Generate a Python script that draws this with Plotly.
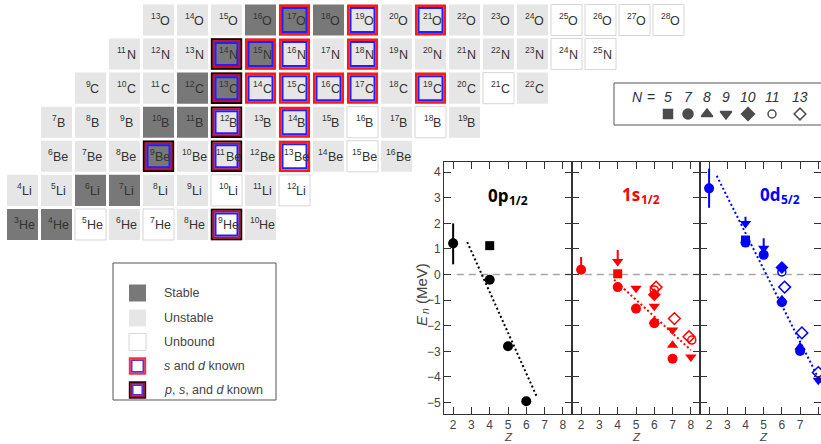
import plotly.graph_objects as go

W, H = 821, 444

# ---------------- Nuclide chart data ----------------
elements = ["He", "Li", "Be", "B", "C", "N", "O"]
element_Z = [2, 3, 4, 5, 6, 7, 8]
first_N = [1, 1, 2, 2, 3, 4, 5]
# S = stable, U = unstable, W = unbound (one code per isotope, increasing N)
status = ["SSWUWUWU", "UUSSUUWUW", "UUUSUUUWUWU", "UUUSSUUUUWUWU",
          "UUUSSUUUUUUUWU", "UUUSSUUUUUUUUWW", "UUUSSSUUUUUUWWWW"]
sd_known = {"O": [17, 19, 21], "N": [15, 16, 18], "C": [14, 15, 16, 17, 19],
            "B": [14], "Be": [13]}
psd_known = {"N": [14], "C": [13], "B": [12], "Be": [9, 11], "He": [9]}

legend_labels = ["Stable", "Unstable", "Unbound",
                 "<i>s</i> and <i>d</i> known",
                 "<i>p</i>, <i>s</i>, and <i>d</i> known"]

# ---------------- Energy panel data ----------------
p_Z = [2, 4, 4, 5, 6]
p_E = [1.22, 1.13, -0.20, -2.80, -4.95]
p_N = [7, 5, 7, 7, 7]
p_up = [0.78, 0, 0, 0, 0]
p_dn = [0.82, 0, 0, 0, 0]
p_fitZ = [2.77, 6.56]
p_fitE = [1.27, -4.75]

s_Z = [2, 4, 4, 4, 5, 5, 6.1, 6, 6, 6, 6, 6, 7.1, 7, 7, 7, 7.9, 8.05, 8]
s_E = [0.19, 0.51, 0.03, -0.49, -0.53, -1.33, -0.49, -0.60, -0.79, -1.24,
       -1.82, -1.90, -1.72, -2.17, -2.76, -3.29, -2.43, -2.56, -3.22]
s_N = [7, 9, 5, 7, 9, 7, 13, 11, 10, 9, 8, 7, 13, 9, 8, 7, 13, 11, 9]
s_up = [0.5, 0.45] + [0] * 17
s_dn = [0] * 19
s_fitZ = [3.8, 8.0]
s_fitE = [-0.2, -2.95]

d_Z = [2, 4, 4, 4, 5, 5, 6, 6, 6.15, 6, 6, 7.1, 7, 7, 8, 8]
d_E = [3.37, 2.00, 1.35, 1.25, 1.03, 0.77, 0.28, 0.10, -0.49, -0.98, -1.08,
       -2.28, -2.83, -2.99, -3.83, -4.13]
d_N = [7, 9, 5, 7, 9, 7, 10, 11, 13, 8, 7, 13, 8, 7, 13, 9]
d_up = [0.77, 0.26, 0, 0, 0.39] + [0] * 11
d_dn = [0.76] + [0] * 15
d_fitZ = [2.42, 8.27]
d_fitE = [3.86, -4.42]

legend_N = [5, 7, 8, 9, 10, 11, 13]
symbols = {5: "square", 7: "circle", 8: "triangle-up", 9: "triangle-down",
           10: "diamond", 11: "circle-open", 13: "diamond-open"}
sizes = {5: 9, 7: 10, 8: 10, 9: 10, 10: 10, 11: 8, 13: 9}

panels = [
    ("x", "y", p_Z, p_E, p_N, p_up, p_dn, p_fitZ, p_fitE, "#000000", "0p", "1/2"),
    ("x2", "y2", s_Z, s_E, s_N, s_up, s_dn, s_fitZ, s_fitE, "#ff0000", "1s", "1/2"),
    ("x3", "y3", d_Z, d_E, d_N, d_up, d_dn, d_fitZ, d_fitE, "#0000ff", "0d", "5/2"),
]
title_pos = [(505, 196), (638, 194), (777, 194)]

FONT = "Liberation Sans"
# approximate glyph advance widths (em)
CW = {"H": .722, "e": .556, "L": .556, "i": .222, "B": .667, "C": .722,
      "N": .722, "O": .778}
CW_OS = {"p": .627, "s": .488, "d": .627, "/": .371}


def text_w(s, size, table=CW, dflt=.556):
    return sum(table.get(c, dflt) for c in s) * size


def pxx(x):
    return x / W


def pxy(y):
    return 1 - y / H


def ann(x, y, text, size, color="#444", xanchor="center", family=FONT, **kw):
    d = dict(xref="paper", yref="paper", x=pxx(x), y=pxy(y), text=text, showarrow=False,
             xanchor=xanchor, yanchor="middle",
             font=dict(size=size, color=color, family=family))
    d.update(kw)
    return d


fig = go.Figure()
shapes = []
annotations = []

# ---------------- Energy panels ----------------
for (xa, ya, Zs, Es, Ns, up, dn, fz, fe, col, orb, j), (tx, ty) in zip(panels, title_pos):
    fig.add_trace(go.Scatter(x=[2.2, 8.5], y=[0, 0], mode="lines", xaxis=xa, yaxis=ya,
                             line=dict(color="#a6a6a6", width=1.5, dash="7px,5px"),
                             showlegend=False, hoverinfo="skip"))
    fig.add_trace(go.Scatter(x=fz, y=fe, mode="lines", xaxis=xa, yaxis=ya,
                             line=dict(color=col, width=2, dash="2px,2.5px"),
                             showlegend=False, hoverinfo="skip"))
    for n in legend_N:
        idx = [i for i, v in enumerate(Ns) if v == n]
        if not idx:
            continue
        is_open = symbols[n].endswith("open")
        has_err = any(up[i] or dn[i] for i in idx)
        fig.add_trace(go.Scatter(
            x=[Zs[i] for i in idx], y=[Es[i] for i in idx], mode="markers",
            xaxis=xa, yaxis=ya, showlegend=False,
            marker=dict(symbol=symbols[n], size=sizes[n], color=col,
                        line=dict(width=1.5 if is_open else 0, color=col)),
            error_y=dict(type="data", symmetric=False,
                         array=[up[i] for i in idx], arrayminus=[dn[i] for i in idx],
                         width=0, thickness=2, color=col, visible=has_err)))
    # panel title: orbital + subscript j
    mw = text_w(orb, 17, CW_OS, .572)
    jw = text_w(j, 12, CW_OS, .572)
    start = tx - (mw + jw) / 2
    annotations.append(ann(start, ty, f"<b>{orb}</b>", 17, color=col,
                           family="Open Sans", xanchor="left"))
    annotations.append(ann(start + mw + 1, ty + 5, f"<b>{j}</b>", 12, color=col,
                           family="Open Sans", xanchor="left"))
    annotations.append(dict(xref=xa, yref="paper", x=5, y=0, text="<i>Z</i>",
                            showarrow=False, xanchor="center", yanchor="bottom",
                            borderpad=0, yshift=0,
                            font=dict(size=11.5, color="#444", family=FONT)))

# y-axis title E_n (MeV), rotated
annotations.append(ann(421, 321, "<i>E</i>", 15, textangle=-90))
annotations.append(ann(425, 311, "<i>n</i>", 10.5, textangle=-90))
annotations.append(ann(421, 284, "(MeV)", 15, textangle=-90))

# ---------------- Nuclide chart ----------------
ux = 1 / 34.0
half = 15.5 * ux
fills = {"S": "#787878", "U": "#e6e6e6", "W": "#ffffff"}
EL_SIZE, SUP_SIZE = 12.5, 8.5


def box(n, z, inset, color, width):
    d = half - inset * ux
    shapes.append(dict(type="rect", xref="x4", yref="y4", x0=n - d, x1=n + d,
                       y0=z - d, y1=z + d, line=dict(color=color, width=width),
                       fillcolor="rgba(0,0,0,0)", layer="below"))


for el, z, n0, st in zip(elements, element_Z, first_N, status):
    for i, code in enumerate(st):
        n = n0 + i
        line = dict(width=1, color="#d6d6d6") if code == "W" else dict(width=0)
        shapes.append(dict(type="rect", xref="x4", yref="y4", x0=n - half, x1=n + half,
                           y0=z - half, y1=z + half, fillcolor=fills[code], line=line,
                           layer="below"))
        A = z + n
        if A in sd_known.get(el, []):
            box(n, z, 1.2, "#ff1a1a", 2.5)
            box(n, z, 3.5, "#2020ff", 2)
        if A in psd_known.get(el, []):
            box(n, z, 0.8, "#1a0000", 2)
            box(n, z, 2.6, "#e00020", 2)
            box(n, z, 4.5, "#2020ff", 2)
        sw = text_w(str(A), SUP_SIZE)
        ew = text_w(el, EL_SIZE)
        start = -(sw + ew) / 2
        annotations.append(dict(xref="x4", yref="y4", x=n, y=z, text=str(A),
                                showarrow=False, xanchor="left", yanchor="middle",
                                xshift=start, yshift=4,
                                font=dict(size=SUP_SIZE, color="#333", family=FONT)))
        annotations.append(dict(xref="x4", yref="y4", x=n, y=z, text=el,
                                showarrow=False, xanchor="left", yanchor="middle",
                                xshift=start + sw, yshift=-1,
                                font=dict(size=EL_SIZE, color="#333", family=FONT)))

# invisible trace so the nuclide axes exist
fig.add_trace(go.Scatter(x=[first_N[0]], y=[element_Z[0]], mode="markers", xaxis="x4",
                         yaxis="y4", marker=dict(opacity=0), showlegend=False,
                         hoverinfo="skip"))

# ---------------- Left legend ----------------
shapes.append(dict(type="rect", xref="paper", yref="paper", x0=pxx(113), x1=pxx(276),
                   y0=pxy(400), y1=pxy(263), line=dict(color="#555", width=1),
                   fillcolor="white"))
item_y = [293, 318, 342, 366, 390]
sw_fill = ["#787878", "#e6e6e6", "#ffffff", "#ffffff", "#ffffff"]
for k, (yc, lab, f) in enumerate(zip(item_y, legend_labels, sw_fill)):
    ln = dict(width=1, color="#d6d6d6") if k == 2 else dict(width=0)
    shapes.append(dict(type="rect", xref="paper", yref="paper", x0=pxx(129), x1=pxx(146),
                       y0=pxy(yc + 8.5), y1=pxy(yc - 8.5), fillcolor=f, line=ln))
    if k == 3:
        for ins, c, w in [(0.8, "#ff3030", 2), (2.6, "#6a2bd0", 1.8)]:
            shapes.append(dict(type="rect", xref="paper", yref="paper", x0=pxx(129 + ins),
                               x1=pxx(146 - ins), y0=pxy(yc + 8.5 - ins), y1=pxy(yc - 8.5 + ins),
                               line=dict(color=c, width=w)))
    if k == 4:
        for ins, c, w in [(0.8, "#3a0010", 2), (2.4, "#b01030", 1.8), (3.8, "#5a2bd0", 1.5)]:
            shapes.append(dict(type="rect", xref="paper", yref="paper", x0=pxx(129 + ins),
                               x1=pxx(146 - ins), y0=pxy(yc + 8.5 - ins), y1=pxy(yc - 8.5 + ins),
                               line=dict(color=c, width=w)))
    annotations.append(ann(162, yc, lab, 12.5, xanchor="left"))

# ---------------- N legend ----------------
shapes.append(dict(type="rect", xref="paper", yref="paper", x0=pxx(614), x1=pxx(835),
                   y0=pxy(125), y1=pxy(83), line=dict(color="#555", width=1),
                   fillcolor="white", layer="below"))
leg_x = [668, 688, 707, 726, 748, 772, 800]
annotations.append(ann(637, 97, "<i>N</i>", 14, color="#333"))
annotations.append(ann(651, 97, "=", 14, color="#333"))
for lx, n in zip(leg_x, legend_N):
    annotations.append(ann(lx, 97, f"<i>{n}</i>", 14, color="#333"))
fig.add_trace(go.Scatter(
    x=leg_x, y=[114] * len(leg_x), mode="markers", xaxis="x5", yaxis="y5",
    marker=dict(symbol=[symbols[n] for n in legend_N], size=[sizes[n] for n in legend_N],
                color="#000", line=dict(width=1.5, color="#000")),
    showlegend=False, hoverinfo="skip"))

# ---------------- Layout ----------------
ax_common = dict(showline=True, linecolor="#333", linewidth=1, mirror="ticks",
                 ticks="inside", ticklen=7, tickcolor="#333", tickwidth=1,
                 showgrid=False, zeroline=False,
                 tickfont=dict(size=12, color="#444", family=FONT))
ydom = [pxy(414), pxy(162)]
xticks = [2, 3, 4, 5, 6, 7, 8]
yticks = [-5, -4, -3, -2, -1, 0, 1, 2, 3, 4]

fig.update_layout(
    width=W, height=H, margin=dict(l=0, r=0, t=0, b=0),
    paper_bgcolor="white", plot_bgcolor="rgba(0,0,0,0)",
    font=dict(family=FONT), showlegend=False,
    xaxis=dict(domain=[pxx(444), pxx(572)], range=[1.5, 8.5], anchor="y",
               tickvals=xticks, **ax_common),
    xaxis2=dict(domain=[pxx(572), pxx(700)], range=[1.5, 8.5], anchor="y2",
                tickvals=xticks, **ax_common),
    xaxis3=dict(domain=[pxx(700), 1.0], range=[1.5, 8.15], anchor="y3",
                tickvals=xticks, **ax_common),
    yaxis=dict(domain=ydom, range=[-5.45, 4.4], anchor="x", tickvals=yticks, **ax_common),
    yaxis2=dict(domain=ydom, range=[-5.45, 4.4], anchor="x2", tickvals=yticks,
                showticklabels=False, **ax_common),
    yaxis3=dict(domain=ydom, range=[-5.45, 4.4], anchor="x3", tickvals=yticks,
                showticklabels=False, **ax_common),
    xaxis4=dict(domain=[pxx(5.5), pxx(685.5)], range=[0.5, 20.5], anchor="y4", visible=False),
    yaxis4=dict(domain=[pxy(241.5), pxy(2.96)], range=[1.5, 8.5], anchor="x4", visible=False),
    xaxis5=dict(domain=[0, 1], range=[0, W], anchor="y5", visible=False),
    yaxis5=dict(domain=[0, 1], range=[H, 0], anchor="x5", visible=False),
    shapes=shapes, annotations=annotations,
)

fig.write_html("out.html", config={"displayModeBar": False},
               post_script="document.body.style.margin='0px';"
                           "document.body.style.overflow='hidden';")
